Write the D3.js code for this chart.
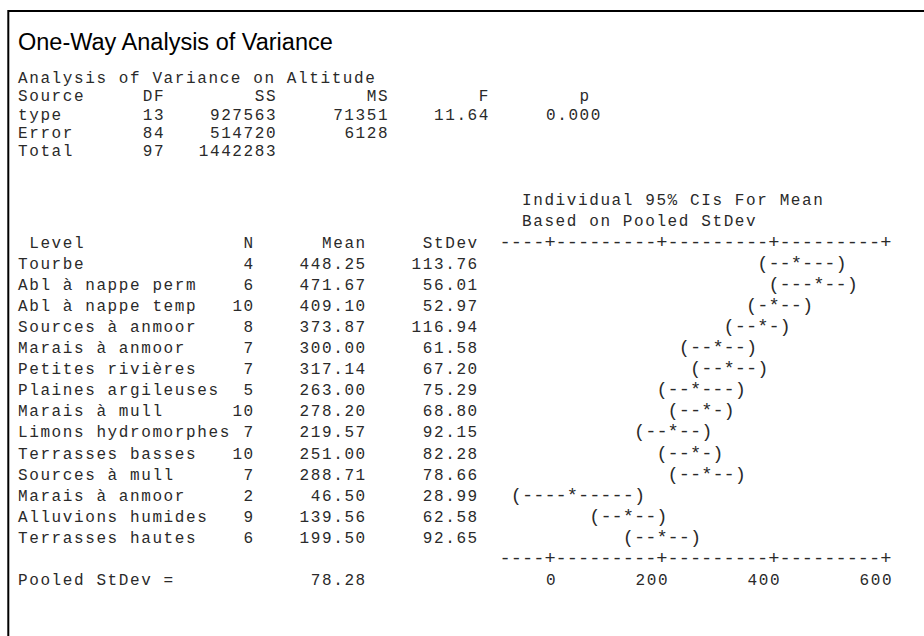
<!DOCTYPE html>
<html>
<head>
<meta charset="utf-8">
<script src="https://cdn.jsdelivr.net/npm/d3@7"></script>
<style>
  html, body { margin: 0; padding: 0; background: #fff; }
  svg { display: block; }
  .mono { font-family: "Liberation Mono", "Courier New", monospace; font-size: 16px; letter-spacing: 1.6px; fill: #2a2a2a; white-space: pre; }
  .sym { font-family: "Liberation Mono", "Courier New", monospace; font-size: 18.67px; fill: #2a2a2a; white-space: pre; }
  .title { font-family: Arial, "Liberation Sans", sans-serif; font-size: 23.5px; fill: #000; }
</style>
</head>
<body>
<script>
// ---------- data ----------
const titleText = "One-Way Analysis of Variance";
const anovaHeading = "Analysis of Variance on Altitude";
const anovaSources = ["type", "Error", "Total"];
const anovaDF = [13, 84, 97];
const anovaSS = [927563, 514720, 1442283];
const anovaMS = [71351, 6128, null];
const anovaF = ["11.64", null, null];
const anovaP = ["0.000", null, null];

const levels = ["Tourbe", "Abl à nappe perm", "Abl à nappe temp", "Sources à anmoor",
  "Marais à anmoor", "Petites rivières", "Plaines argileuses", "Marais à mull",
  "Limons hydromorphes", "Terrasses basses", "Sources à mull", "Marais à anmoor",
  "Alluvions humides", "Terrasses hautes"];
const nValues = [4, 6, 10, 8, 7, 7, 5, 10, 7, 10, 7, 2, 9, 6];
const means = [448.25, 471.67, 409.10, 373.87, 300.00, 317.14, 263.00, 278.20, 219.57, 251.00, 288.71, 46.50, 139.56, 199.50];
const stdevs = [113.76, 56.01, 52.97, 116.94, 61.58, 67.20, 75.29, 68.80, 92.15, 82.28, 78.66, 28.99, 62.58, 92.65];
// 95% CI bounds (based on pooled StDev)
const ciLow = [370.42, 408.12, 359.87, 318.83, 241.16, 258.30, 193.38, 228.97, 160.73, 201.77, 229.87, -63.58, 87.67, 135.95];
const ciHigh = [526.08, 535.22, 458.33, 428.91, 358.84, 375.98, 332.62, 327.43, 278.41, 300.23, 347.55, 156.58, 191.45, 263.05];
const axisTicks = [0, 200, 400, 600];
const pooledStDev = 78.28;

// ---------- layout ----------
const W = 924, H = 636;
const x0 = 18, cw = 11.2;              // monospace grid
const ls = 1.6;                        // letter spacing of .mono text
const colX = c => x0 + c * cw;
const upperY0 = 83, upperStep = 18.25;
const lowerY0 = 205.3, lowerStep = 21.1;

const svg = d3.select("body").append("svg").attr("width", W).attr("height", H);

svg.append("path")
  .attr("d", `M8.3,${H} V11 H${W}`)
  .attr("fill", "none").attr("stroke", "#000").attr("stroke-width", 2);

svg.append("text").attr("class", "title").attr("x", 18).attr("y", 50).text(titleText);

const g = svg.append("g");

function putL(col, y, s) { g.append("text").attr("class", "mono").attr("x", colX(col)).attr("y", y).text(s); }
function putR(lastCol, y, s) { g.append("text").attr("class", "mono").attr("x", colX(lastCol + 1) + ls).attr("y", y).attr("text-anchor", "end").text(s); }
function putSym(col, y, s) { g.append("text").attr("class", "sym").attr("x", colX(col)).attr("y", y).text(s); }

// ANOVA block
const uy = i => upperY0 + i * upperStep;
putL(0, uy(0), anovaHeading);
putL(0, uy(1), "Source");
putR(12, uy(1), "DF");
putR(22, uy(1), "SS");
putR(32, uy(1), "MS");
putR(41, uy(1), "F");
putR(50, uy(1), "p");
anovaSources.forEach((s, i) => {
  const y = uy(i + 2);
  putL(0, y, s);
  putR(12, y, String(anovaDF[i]));
  putR(22, y, String(anovaSS[i]));
  if (anovaMS[i] != null) putR(32, y, String(anovaMS[i]));
  if (anovaF[i] != null) putR(41, y, anovaF[i]);
  if (anovaP[i] != null) putR(51, y, anovaP[i]);
});

// level block
const ly = i => lowerY0 + i * lowerStep;
putL(45, ly(0), "Individual 95% CIs For Mean");
putL(45, ly(1), "Based on Pooled StDev");

const colScale = d3.scaleLinear().domain([0, 600]).range([47, 77]);
const axisStart = 43, axisEnd = colScale(600);
function axisString() {
  const tickCols = new Set(axisTicks.map(t => Math.round(colScale(t))));
  let s = "";
  for (let c = axisStart; c <= axisEnd; c++) s += tickCols.has(c) ? "+" : "-";
  return s;
}

const headY = ly(2);
putL(1, headY, "Level");
putR(20, headY, "N");
putR(30, headY, "Mean");
putR(40, headY, "StDev");
putSym(axisStart, headY, axisString());

levels.forEach((name, i) => {
  const y = ly(3 + i);
  putL(0, y, name);
  putR(20, y, String(nValues[i]));
  putR(30, y, means[i].toFixed(2));
  putR(40, y, stdevs[i].toFixed(2));
  const lo = Math.round(colScale(ciLow[i]));
  const hi = Math.round(colScale(ciHigh[i]));
  const m = Math.round(colScale(means[i]));
  let s = "";
  for (let c = lo; c <= hi; c++) s += c === lo ? "(" : c === hi ? ")" : c === m ? "*" : "-";
  putSym(lo, y, s);
});

const axY = ly(3 + levels.length);
putSym(axisStart, axY, axisString());
const lastY = ly(4 + levels.length);
putL(0, lastY, "Pooled StDev =");
putR(30, lastY, pooledStDev.toFixed(2));
axisTicks.forEach(t => putR(Math.round(colScale(t)), lastY, String(t)));
</script>
</body>
</html>
